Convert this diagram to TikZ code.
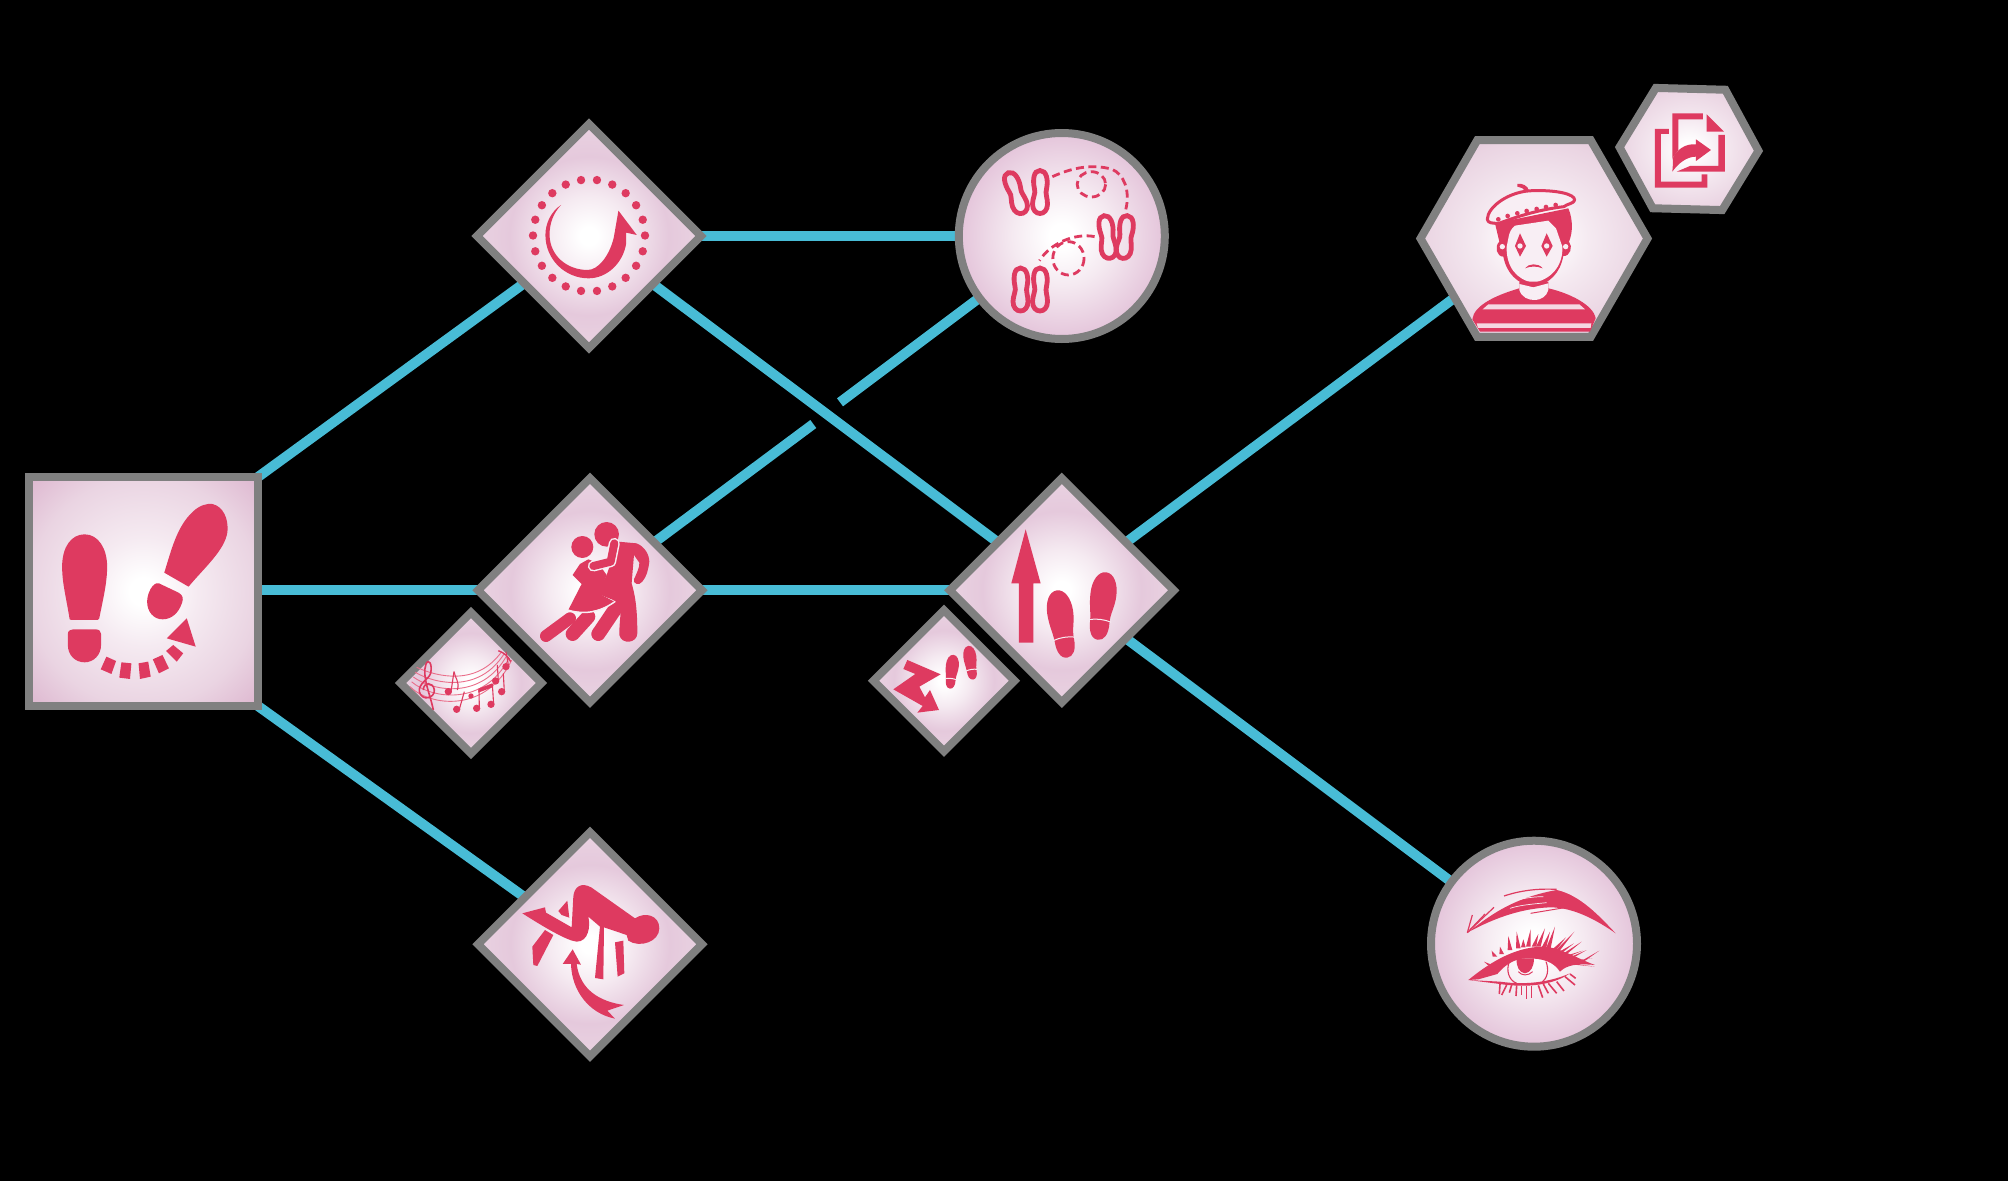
\documentclass[tikz,border=0pt]{standalone}
\usetikzlibrary{positioning,backgrounds,calc,shapes.geometric}
\definecolor{skillInk}{HTML}{DE3A60}
\definecolor{skillRim}{HTML}{808080}
\definecolor{skillLink}{HTML}{48BCD6}
\definecolor{skillPale}{HTML}{F8EEF4}
\definecolor{skillStaff}{HTML}{EA6E8A}
\definecolor{skillGlowMid}{HTML}{F5EAF1}
\definecolor{skillGlowEdge}{HTML}{EAD4E2}
\definecolor{skillGlowCorner}{HTML}{DDB6CF}
\definecolor{skillGlowRound}{HTML}{E4C4DA}
\definecolor{skillGlowSide}{HTML}{E5C9DC}
\definecolor{skillGlowTip}{HTML}{E9D2E1}
\pgfdeclareradialshading{skillglow}{\pgfpoint{0bp}{0bp}}{%
  color(0bp)=(white); color(3bp)=(white); color(12bp)=(skillGlowMid);
  color(25bp)=(skillGlowEdge); color(35.5bp)=(skillGlowCorner)}
\pgfdeclareradialshading{skillglowround}{\pgfpoint{0bp}{0bp}}{%
  color(0bp)=(white); color(3bp)=(white); color(12bp)=(skillGlowMid);
  color(25bp)=(skillGlowRound); color(35.5bp)=(skillGlowRound)}
\pgfdeclareradialshading{skillglowdiamond}{\pgfpoint{0bp}{0bp}}{%
  color(0bp)=(white); color(2bp)=(white); color(9bp)=(skillGlowMid);
  color(17.7bp)=(skillGlowSide); color(25bp)=(skillGlowTip)}
\tikzset{
  skill/base/.style={draw=skillRim, line width=8pt, inner sep=0pt, outer sep=0pt},
  skill/square/.style={skill/base, shading=skillglow, rectangle, minimum size=229pt},
  skill/diamond/.style={skill/base, shading=skillglowdiamond, diamond, minimum width=224pt, minimum height=224pt},
  skill/smalldiamond/.style={skill/base, shading=skillglowdiamond, diamond, minimum width=141pt, minimum height=141pt},
  skill/circle/.style={skill/base, shading=skillglowround, circle, minimum size=206pt},
  skill/hexagon/.style={skill/base, shading=skillglow, regular polygon, regular polygon sides=6, minimum size=227pt},
  skill/smallhexagon/.style={skill/base, shading=skillglow, regular polygon, regular polygon sides=6, minimum size=139pt},
  skill/link/.style={draw=skillLink, line width=10pt},
  skill/trail/.style={draw=skillInk, line width=2.8pt, dash pattern=on 8pt off 4.5pt},
  zoomed/.style={x=.3333pt, y=-.3333pt},
  sole/.pic={
    \draw[skillInk, line width=4.8pt] (0,-21.5) .. controls (6.5,-21.5) and (8.5,-12) .. (6.5,-3)
      .. controls (5,1) and (7.5,6) .. (7.5,12) .. controls (7.5,18) and (4,21.5) .. (0,21.5)
      .. controls (-4,21.5) and (-7.5,18) .. (-7.5,12) .. controls (-7.5,6) and (-4,1) .. (-5.5,-3)
      .. controls (-7.5,-12) and (-6.5,-21.5) .. (0,-21.5) -- cycle;
  },
  footprint/.pic={
    \fill[skillInk] (0,-34) .. controls (8,-34) and (13,-24) .. (13,-12)
      .. controls (13,0) and (9,6) .. (9.5,16) .. controls (10,28) and (6,34) .. (0,34)
      .. controls (-7,34) and (-10,26) .. (-10,16) .. controls (-10.5,6) and (-13,0) .. (-13,-12)
      .. controls (-13,-24) and (-8,-34) .. (0,-34) -- cycle;
    \draw[skillPale, line width=1pt] (-11,15) .. controls (-4,13) and (4,13) .. (11,15);
  },
}

\begin{document}
\begin{tikzpicture}[x=1pt, y=-1pt]
\useasboundingbox (0,0) rectangle (2008,1181);

\node[skill/square] (start) at (143.5,591.5) {};
\node[skill/diamond] (spin) at (589,236) {};
\node[skill/diamond] (dance) at (590,590.3) {};
\node[skill/smalldiamond] (music) at (471,683) {};
\node[skill/diamond] (flip) at (590,944.2) {};
\node[skill/circle] (steps) at (1061.8,236) {};
\node[skill/diamond] (rise) at (1061.8,590.3) {};
\node[skill/smalldiamond] (zigzag) at (944,680.7) {};
\node[skill/hexagon] (mime) at (1534,238.5) {};
\node[skill/smallhexagon, rotate=-1.5] (copy) at (1689,149) {};
\node[skill/circle] (eye) at (1534,943.7) {};
\coordinate (gapA) at (813.3,424);
\coordinate (gapB) at (840,402.3);

\begin{scope}[on background layer]
\fill[black] (0,0) rectangle (2008,1181);
\draw[skill/link] (start.north east) -- (spin);
\draw[skill/link] (start.east |- dance) -- (dance);
\draw[skill/link] (start.south east) -- (flip);
\draw[skill/link] (spin) -- (steps);
\draw[skill/link] (spin) -- (rise);
\draw[skill/link] (dance) -- (gapA);
\draw[skill/link] (gapB) -- (steps);
\draw[skill/link] (dance) -- (rise);
\draw[skill/link] (rise) -- (mime);
\draw[skill/link] (rise) -- (eye);
\end{scope}

% start
\begin{scope}[shift={(0,450)}, x=.3571pt, y=-.3333pt]
\fill[skillInk] (195,508) .. controls (185,440) and (174,400) .. (174,350) .. controls (174,290) and (200,253) .. (237,253)
  .. controls (275,253) and (300,295) .. (300,350) .. controls (300,400) and (288,450) .. (278,505) .. controls (277,510) and (272,510) .. (270,510) -- (200,510) -- cycle;
\fill[skillInk] (190,552) .. controls (190,542) and (198,538) .. (205,538) -- (268,538) .. controls (278,538) and (283,545) .. (283,552)
  -- (283,585) .. controls (283,615) and (262,637) .. (237,637) .. controls (210,637) and (190,615) .. (190,585) -- cycle;
\fill[skillInk] (460,368) .. controls (480,300) and (495,230) .. (540,185) .. controls (560,165) and (580,160) .. (595,162)
  .. controls (625,170) and (640,205) .. (637,245) .. controls (630,300) and (575,350) .. (528,410) -- cycle;
\fill[skillInk] (445,400) -- (500,428) .. controls (512,435) and (514,445) .. (510,458) .. controls (500,490) and (480,508) .. (455,508)
  .. controls (430,508) and (412,485) .. (412,455) .. controls (412,430) and (428,395) .. (445,400) -- cycle;
\fill[skillInk] (298,620) -- (325,633) -- (312,672) -- (282,658) -- cycle;
\fill[skillInk] (340,637) -- (368,640) -- (364,687) -- (334,683) -- cycle;
\fill[skillInk] (388,640) -- (415,635) -- (422,680) -- (392,687) -- cycle;
\fill[skillInk] (428,628) -- (455,615) -- (473,655) -- (445,670) -- cycle;
\fill[skillInk] (465,603) -- (485,585) -- (513,610) -- (495,635) -- cycle;
\fill[skillInk] (467,565) -- (523,505) -- (548,590) -- cycle;
\end{scope}

% spin
\foreach \i in {0,...,21}{
  \fill[skillInk] ({589+56*cos(\i*360/22)},{235.5+56*sin(\i*360/22)}) circle (4.2);
}
\begin{scope}[shift={(460,100)}, x=.4592pt, y=-.3333pt]
\fill[skillInk] (220,315) .. controls (198,335) and (186,370) .. (186,405) .. controls (186,480) and (230,535) .. (280,535)
  .. controls (320,535) and (355,490) .. (362,430) -- (362,398) -- (385,405) -- (345,332) -- (335,412)
  .. controls (325,470) and (300,510) .. (278,510) .. controls (235,510) and (196,470) .. (195,405) .. controls (195,370) and (203,340) .. (220,315) -- cycle;
\end{scope}

% steps
\pic[rotate=20] at (1015.5,193) {sole};
\pic at (1040,192) {sole};
\pic[rotate=8] at (1107,237) {sole};
\pic[rotate=-6] at (1125,237) {sole};
\pic at (1020.5,289.5) {sole};
\pic at (1040,289.5) {sole};
\begin{scope}[shift={(460,100)}, x=.4592pt, y=-.3333pt]
\draw[skill/trail] (1290,230) .. controls (1330,205) and (1375,190) .. (1420,208) .. controls (1445,222) and (1460,270) .. (1450,328);
\draw[skill/trail] (1378,190) ++(-3,63) ellipse (31 and 38);
\draw[skill/trail] (1382,410) .. controls (1340,398) and (1285,430) .. (1262,482);
\draw[skill/trail] (1325,475) ellipse (34 and 50);
\end{scope}

% dance
\begin{scope}[shift={(380,460)}, zoomed]
\fill[skillInk] (680,223) circle (37);
\fill[skillInk] (607,261) circle (33);
\fill[skillInk] (715,245) -- (770,250) .. controls (795,260) and (808,285) .. (808,305) .. controls (805,330) and (800,350) .. (787,365)
  .. controls (778,378) and (758,372) .. (762,358) .. controls (770,340) and (780,320) .. (778,308) -- (762,285) -- (755,370) .. controls (770,420) and (772,470) .. (772,520)
  .. controls (772,550) and (725,555) .. (718,525) .. controls (718,490) and (722,470) .. (722,450) -- (700,420) -- (650,400) -- (680,345) -- cycle;
\draw[skillInk, line width=12pt, line cap=round] (498,528) -- (570,475);
\draw[skillInk, line width=14pt, line cap=round] (578,522) -- (625,470);
\draw[skillInk, line width=14pt, line cap=round] (655,522) -- (707,445);
\fill[skillInk] (625,298) -- (600,312) -- (578,345) -- (605,372) -- (565,450) .. controls (610,462) and (660,455) .. (703,425) -- (655,400) -- (680,345) -- (655,310) -- cycle;
\draw[skillPale, line width=1.5pt] (563,450) .. controls (610,465) and (660,458) .. (706,424);
\draw[skillPale, line width=11pt, line cap=round, line join=round] (640,318) -- (692,305) -- (703,250);
\draw[skillInk, line width=8pt, line cap=round, line join=round] (640,318) -- (692,305) -- (703,250);
\end{scope}

% music
\begin{scope}[shift={(380,460)}, zoomed]
\foreach \i in {0,...,4}{
  \draw[skillStaff, line width=.9pt] ({110-5*\i},{622+14.5*\i}) .. controls ({170-5*\i},{650+22.5*\i}) and ({290+7.5*\i},{680+20*\i}) .. ({365+7.5*\i},{575+6.25*\i});
}
\draw[skillInk, line width=1.6pt] (160,750) .. controls (150,700) and (125,650) .. (138,612) .. controls (145,595) and (158,610) .. (152,640)
  .. controls (145,660) and (115,670) .. (118,695) .. controls (125,725) and (165,715) .. (163,690) .. controls (160,665) and (130,665) .. (130,690);
\foreach \hx/\hy/\sx/\sy in {205/695/222/635, 230/748/253/695, 290/745/297/688, 333/733/337/672, 365/695/370/640, 347/663/352/615, 378/620/378/575}{
  \fill[skillInk] (\hx,\hy) circle (11);
  \draw[skillInk, line width=1.1pt] (\hx+8,\hy) -- (\sx,\sy);
}
\fill[skillInk] (273,708) circle (8);
\fill[skillInk] (295,686) -- (337,670) -- (337,682) -- (295,698) -- cycle;
\draw[skillInk, line width=1.1pt] (222,635) .. controls (225,655) and (240,665) .. (232,690);
\draw[skillInk, line width=1.4pt] (355,572) .. controls (375,580) and (385,590) .. (392,605);
\end{scope}

% rise
\begin{scope}[shift={(850,460)}, zoomed]
\fill[skillInk] (527,208) -- (572,370) -- (550,370) -- (550,548) -- (507,548) -- (507,370) -- (484,370) -- cycle;
\end{scope}
\pic[rotate=9] at (1062,624) {footprint};
\pic[rotate=-7] at (1102,606) {footprint};

% zigzag
\begin{scope}[shift={(850,460)}, zoomed]
\fill[skillInk] (172,600) -- (272,643) -- (208,680) -- (225,712) -- (240,690) -- (267,750) -- (202,758) -- (218,738)
  -- (130,688) -- (196,642) -- (160,627) -- cycle;
\end{scope}
\pic[rotate=-6, scale=.5] at (951.7,671.7) {footprint};
\pic[rotate=8, scale=.5] at (970.7,662.7) {footprint};

% flip
\begin{scope}[shift={(460,820)}, zoomed]
\fill[skillInk] (187,280) -- (255,262) -- (258,278) -- (335,322) -- (340,230) .. controls (342,200) and (365,185) .. (395,203)
  -- (525,295) .. controls (555,275) and (598,285) .. (598,325) .. controls (598,365) and (540,385) .. (505,362) -- (500,345) -- (432,322)
  -- (430,478) -- (405,474) -- (420,320) -- (385,290) .. controls (392,320) and (385,365) .. (350,365) .. controls (320,362) and (250,320) .. cycle;
\fill[skillInk] (322,242) -- (328,293) -- (305,285) -- (295,273) -- cycle;
\fill[skillInk] (255,330) -- (280,345) -- (232,438) -- (220,435) -- (217,380) -- cycle;
\fill[skillInk] (465,367) -- (490,362) -- (493,460) -- (473,470) -- cycle;
\fill[skillInk] (333,432) .. controls (335,510) and (385,580) .. (465,596) -- (442,572) -- (492,555) .. controls (420,545) and (360,510) .. (350,432)
  -- (363,434) -- (338,388) -- (308,432) -- cycle;
\end{scope}

% mime
\begin{scope}[shift={(1400,60)}, zoomed]
\fill[skillInk] (285,490) -- (505,445) .. controls (520,480) and (518,520) .. (507,545) .. controls (520,560) and (510,590) .. (490,588)
  .. controls (480,640) and (450,670) .. (400,682) .. controls (350,670) and (320,640) .. (310,590) .. controls (290,590) and (282,560) .. (298,545) -- cycle;
\fill[skillPale] (325,535) .. controls (328,515) and (335,505) .. (345,497) -- (445,482) -- (468,505) -- (487,560) .. controls (490,620) and (450,660) .. (400,668)
  .. controls (350,660) and (318,620) .. (320,560) -- cycle;
\fill[skillPale] (307,560) circle (8);
\fill[skillPale] (497,560) circle (8);
\fill[skillInk] (360,520) -- (378,558) -- (360,590) -- (345,558) -- cycle;
\fill[skillInk] (440,520) -- (458,558) -- (440,590) -- (424,558) -- cycle;
\fill[skillPale] (360,558) circle (8);
\fill[skillPale] (440,558) circle (8);
\fill[skillInk] (375,625) .. controls (385,610) and (415,608) .. (428,625) .. controls (410,618) and (392,618) .. cycle;
\fill[skillInk] (217,778) .. controls (222,735) and (290,705) .. (358,685) -- (358,665) -- (445,665) -- (445,685) .. controls (510,700) and (580,735) .. (587,775)
  -- (570,815) -- (240,815) -- cycle;
\fill[skillPale] (358,672) -- (358,690) .. controls (365,712) and (385,720) .. (402,720) .. controls (425,720) and (440,708) .. (445,690) -- (445,670) -- (400,682) -- cycle;
\fill[skillPale!88!skillInk] (265,733) -- (538,733) -- (555,748) -- (248,748) -- cycle;
\fill[skillPale!88!skillInk] (230,790) -- (574,790) -- (572,804) -- (234,804) -- cycle;
\fill[skillInk] (352,372) .. controls (365,368) and (385,378) .. (387,392) -- (375,392) .. controls (372,385) and (362,382) .. (352,380) -- cycle;
\draw[skillInk, line width=3pt, fill=skillPale, line join=round] (262,478) .. controls (262,440) and (330,392) .. (400,392) .. controls (470,390) and (524,402) .. (524,420)
  .. controls (524,430) and (500,432) .. (492,440) .. controls (420,448) and (350,470) .. (297,490) .. controls (280,490) and (262,490) .. cycle;
\foreach \dx/\dy in {295/478, 323/468, 352/460, 380/453, 410/447, 438/441, 467/435}{
  \fill[skillInk] (\dx,\dy) circle (7);
}
\end{scope}

% copy
\begin{scope}[shift={(1400,60)}, zoomed]
\fill[skillInk] (765,207) -- (807,207) -- (807,222) -- (783,222) -- (783,365) -- (905,365) -- (905,343) -- (922,343) -- (922,383) -- (765,383) -- cycle;
\fill[skillInk] (817,160) -- (909,160) -- (909,178) -- (835,178) -- (835,270) -- (817,295) -- cycle;
\fill[skillInk] (955,225) -- (975,225) -- (975,335) -- (830,335) -- (870,318) -- (955,318) -- cycle;
\fill[skillInk] (920,163) -- (972,215) -- (920,215) -- cycle;
\fill[skillInk] (933,270) -- (888,238) -- (888,253) .. controls (855,250) and (830,270) .. (818,295) .. controls (820,310) and (818,320) .. (817,335)
  .. controls (835,310) and (860,290) .. (888,290) -- (888,303) -- cycle;
\end{scope}

% eye
\begin{scope}[shift={(1410,830)}, zoomed]
\fill[skillInk] (172,308) .. controls (230,265) and (300,205) .. (440,180) .. controls (510,195) and (570,260) .. (617,310)
  .. controls (560,270) and (490,232) .. (420,232) .. controls (340,235) and (260,260) .. (172,308) -- cycle;
\draw[skillInk, line width=1.2pt] (172,308) -- (187,255);
\draw[skillInk, line width=1.2pt] (172,308) -- (225,252);
\draw[skillInk, line width=1.2pt] (180,300) -- (252,232);
\draw[skillInk, line width=1.2pt] (282,198) .. controls (330,182) and (380,175) .. (440,178);
\draw[skillInk, line width=1pt] (362,250) -- (470,232);
\draw[skillPale, line width=.7pt] (285,222) .. controls (320,208) and (360,200) .. (400,200);
\draw[skillPale, line width=.7pt] (300,235) .. controls (330,225) and (370,222) .. (410,218);
\fill[skillInk] (175,450) .. controls (230,405) and (310,350) .. (400,350) .. controls (450,352) and (500,385) .. (555,405)
  .. controls (500,400) and (470,405) .. (450,425) .. controls (430,395) and (400,385) .. (350,385) .. controls (310,385) and (280,410) .. (262,432) -- (205,448) -- cycle;
\fill[skillInk] (175,450) -- (270,455) .. controls (320,462) and (400,465) .. (480,430) .. controls (420,472) and (330,472) .. (262,461) -- cycle;
\fill[skillInk] (320,385) -- (372,385) .. controls (372,410) and (362,428) .. (345,430) .. controls (328,428) and (318,410) .. cycle;
\draw[skillInk, line width=1.1pt] (298,395) .. controls (288,420) and (295,450) .. (320,460);
\draw[skillInk, line width=1.1pt] (408,395) .. controls (418,420) and (412,445) .. (395,458);
\draw[skillInk, line width=1pt] (325,425) .. controls (335,438) and (355,438) .. (368,425);
\foreach \bx/\by/\tx/\ty in {240/405/222/395, 255/380/245/362, 275/372/270/350, 300/360/295/318, 325/355/320/305, 340/352/340/328, 355/350/362/298,
  372/350/385/312, 385/350/405/295, 402/352/420/305, 415/355/435/290, 432/360/468/322, 440/365/493/305, 450/368/492/340, 460/375/515/335,
  472/378/518/362, 480/385/530/360, 492/392/548/385, 500/405/568/362, 510/405/555/410}{
  \fill[skillInk] ({\bx-7},\by) -- (\tx,\ty) -- ({\bx+7},\by) -- cycle;
}
\foreach \bx/\by/\tx/\ty in {270/462/268/492, 290/465/275/495, 305/465/298/488, 320/466/318/498, 335/468/335/495, 350/468/350/508, 365/468/365/505, 385/466/398/503,
  400/462/415/490, 415/460/440/490, 440/455/462/483, 465/440/495/465, 480/432/497/445}{
  \draw[skillInk, line width=1.6pt] (\bx,\by) -- (\tx,\ty);
}
\end{scope}
\end{tikzpicture}
\end{document}
